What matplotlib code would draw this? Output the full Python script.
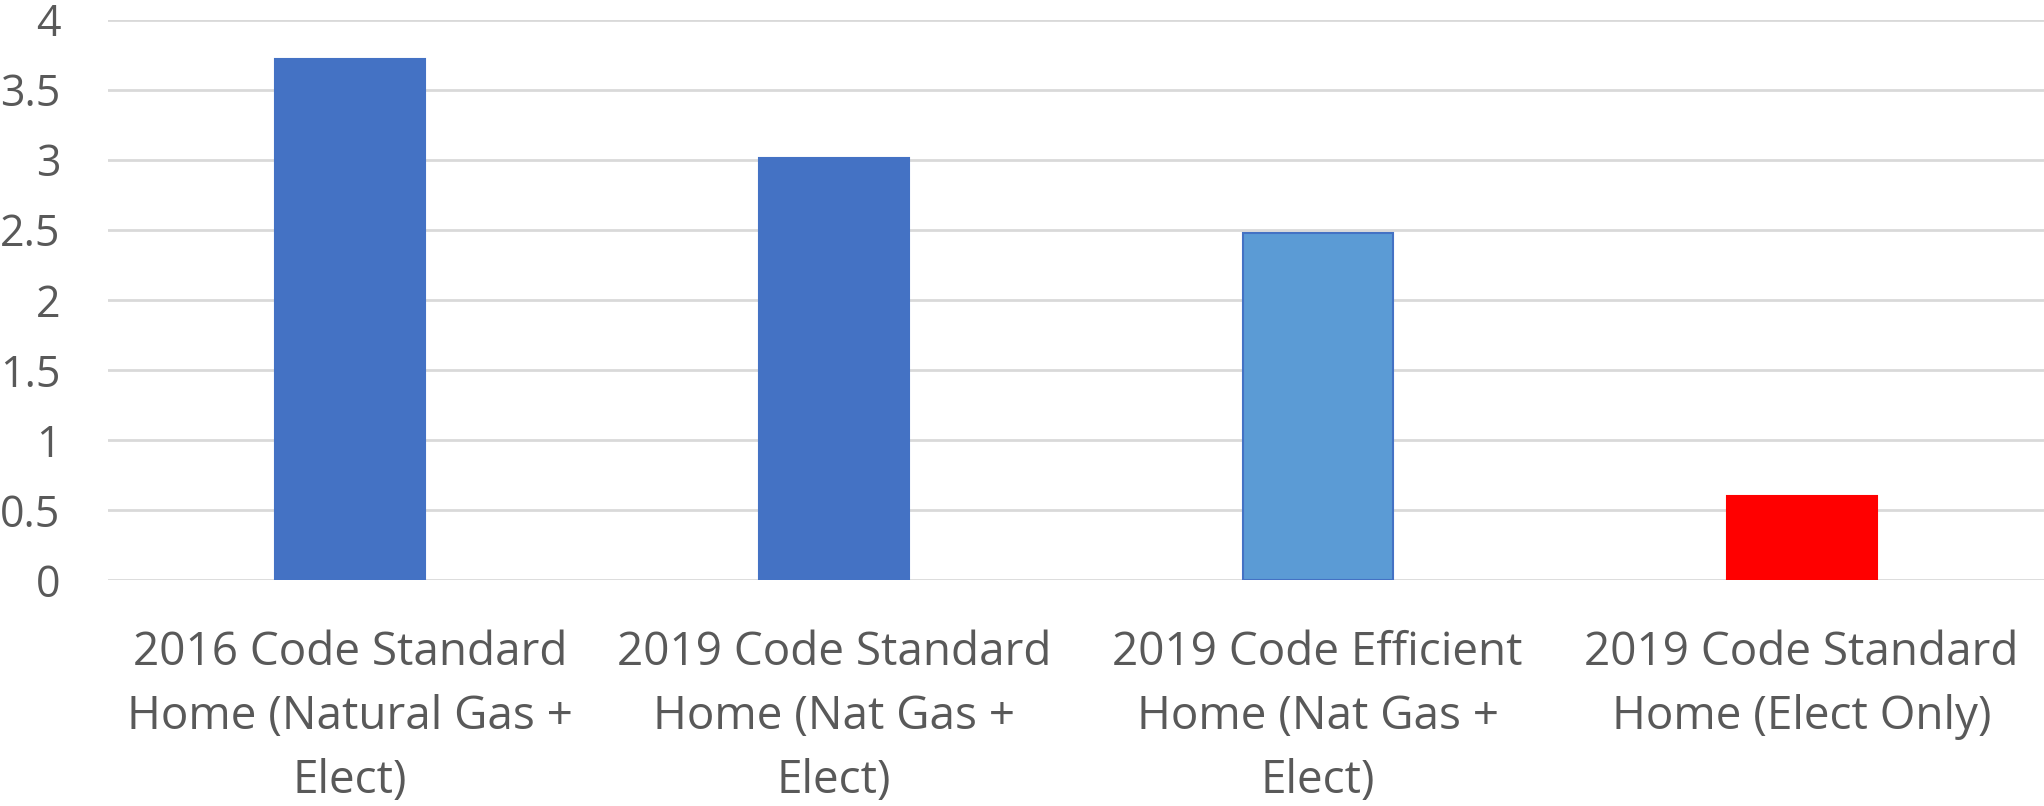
import matplotlib.pyplot as plt

categorias = ["2016 Code Standard\nHome (Natural Gas +\nElect)",
              "2019 Code Standard\nHome (Nat Gas +\nElect)",
              "2019 Code Efficient\nHome (Nat Gas +\nElect)",
              "2019 Code Standard\nHome (Elect Only)"]
valores = [3.72, 3.01, 2.48, 0.6]
cores = ["#4472C4", "#4472C4", "#5B9BD5", "#FF0000"]
bordas = ["#4472C4", "#4472C4", "#4472C4", "#FF0000"]
yticks = [0, 0.5, 1, 1.5, 2, 2.5, 3, 3.5, 4]
ylabels = ["0", "0.5", "1", "1.5", "2", "2.5", "3", "3.5", "4"]

plt.rcParams['font.family'] = ['Open Sans', 'DejaVu Sans']

fig = plt.figure(figsize=(20.44, 8.06), dpi=100)
ax = fig.add_axes([0.0528, 0.2804, 0.947, 0.6953])

x = range(len(valores))
ax.bar(x, valores, width=0.31, color=cores, edgecolor=bordas, linewidth=1.5, zorder=3)

ax.set_xlim(-0.5, 3.5)
ax.set_ylim(0, 4)
ax.set_yticks(yticks)
ax.set_yticklabels(ylabels)
ax.set_xticks(list(x))
ax.set_xticklabels(categorias, linespacing=1.51)

# grade horizontal
ax.grid(axis='y', color='#D9D9D9', linewidth=2, zorder=0)
ax.set_axisbelow(True)
for s in ax.spines.values():
    s.set_visible(False)

ax.tick_params(axis='y', length=0, pad=34, labelsize=31, labelcolor='#595959')
ax.tick_params(axis='x', length=0, pad=36, labelsize=33, labelcolor='#595959')

fig.savefig('out.png', dpi=100)
